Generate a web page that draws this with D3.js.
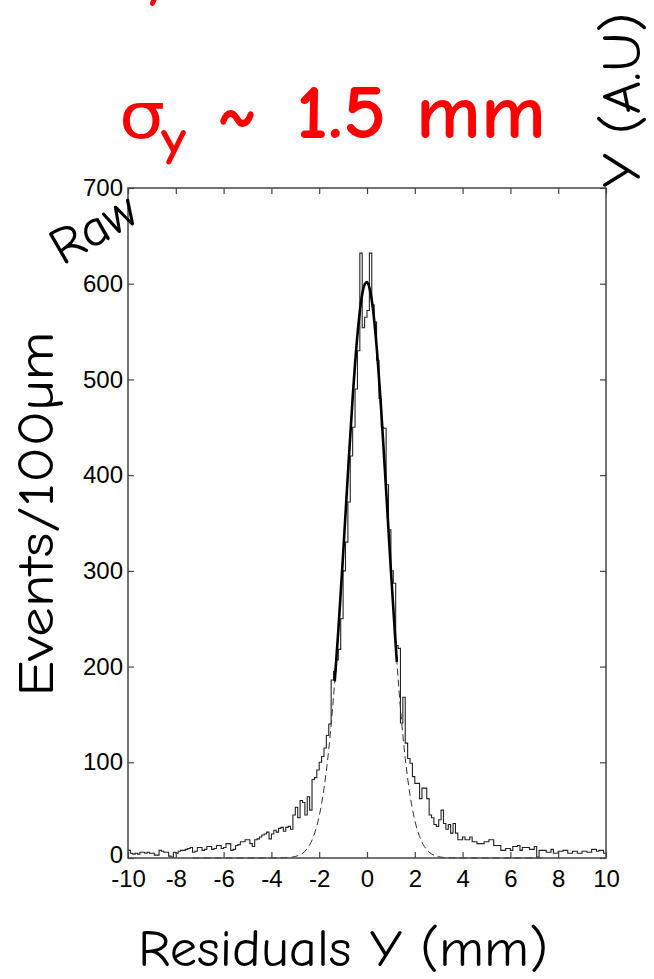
<!DOCTYPE html>
<html>
<head>
<meta charset="utf-8">
<script src="https://cdn.jsdelivr.net/npm/d3@7"></script>
<style>
  html, body { margin: 0; padding: 0; background: #fff; }
  svg { display: block; }
</style>
</head>
<body>
<svg id="chart" width="654" height="979"></svg>
<script>
// ---------------- data ----------------
const binStart = -10;
const binWidth = 0.1;
// events per 100 µm bin, from -10 mm to +10 mm (200 bins)
const counts = [
  8, 5, 4, 5, 4, 6, 6, 5, 6, 5,
  5, 3, 3, 8, 7, 6, 6, 2, 1, 6,
  5, 7, 8, 8, 9, 10, 11, 6, 7, 11,
  11, 8, 9, 12, 12, 9, 10, 13, 13, 10,
  11, 15, 15, 8, 9, 13, 14, 17, 17, 19,
  19, 15, 12, 19, 20, 22, 24, 25, 27, 20,
  25, 29, 27, 31, 32, 28, 32, 33, 30, 45,
  53, 42, 60, 58, 45, 64, 50, 82, 84, 92,
  100, 106, 115, 128, 140, 186, 195, 207, 218, 250,
  300, 330, 372, 420, 450, 490, 530, 632, 554, 565,
  572, 632, 578, 560, 520, 480, 450, 449, 390, 343,
  300, 287, 222, 219, 141, 168, 120, 104, 99, 85,
  78, 78, 62, 73, 73, 62, 45, 42, 35, 33,
  40, 50, 36, 30, 35, 26, 36, 26, 19, 19,
  22, 19, 19, 22, 17, 17, 15, 15, 15, 17,
  17, 19, 19, 13, 13, 13, 8, 8, 10, 10,
  8, 12, 12, 13, 8, 11, 11, 11, 9, 9,
  12, 1, 8, 8, 8, 6, 6, 9, 5, 5,
  7, 7, 8, 8, 5, 5, 7, 7, 5, 5,
  7, 7, 6, 6, 9, 9, 7, 8, 8, 5
];
// fitted curve, points (x in mm, events)
const fitX = [-7.3, -4.0, -3.2, -3.0, -2.8, -2.6, -2.4, -2.2, -2.0, -1.8, -1.6, -1.4, -1.35, -1.2, -1.0, -0.8, -0.6, -0.4, -0.2, -0.1, 0.0, 0.1, 0.2, 0.4, 0.6, 0.8, 1.0, 1.2, 1.25, 1.4, 1.6, 1.8, 2.0, 2.2, 2.4, 2.6, 2.8, 3.0, 3.2, 4.0, 7.3];
const fitY = [0, 0, 0.7, 1.6, 3.4, 7.0, 13.7, 25.1, 43.8, 72.5, 113.5, 168.7, 184.6, 237.5, 316.9, 400.9, 480.8, 546.6, 589.1, 599.2, 601.8, 596.0, 582.9, 535.1, 465.7, 384.1, 300.4, 222.7, 204.9, 156.4, 104.2, 65.8, 39.4, 22.4, 12.0, 6.1, 3.0, 1.4, 0.6, 0, 0];
const fitRange = [-1.35, 1.25];

const xTicks = [-10, -8, -6, -4, -2, 0, 2, 4, 6, 8, 10];
const yTicks = [0, 100, 200, 300, 400, 500, 600, 700];

const xLabel = "Residuals Y (mm)";
const yLabel = "Events/100\u00B5m";
const rightLabel = "Y (A.U)";
const cornerLabel = "Raw";
const titleSigma = "\u03C3";
const titleSub = "y";
const titleTilde = "~";
const titleValue = "1.5 mm";

// ---------------- drawing ----------------
const svg = d3.select("#chart");
svg.append("rect").attr("width", 654).attr("height", 979).attr("fill", "#fff");

const x = d3.scaleLinear().domain([-10, 10]).range([128, 606]);
const y = d3.scaleLinear().domain([0, 700]).range([858, 188]);

const comic = "'Comic Sans MS', 'Comic Neue', 'DejaVu Sans', sans-serif";
const axisFont = "'Liberation Sans', Arial, sans-serif";
const axisColor = "#444";
const plain = d => String(d);

// histogram (stairs)
const stairPts = counts.map((c, i) => [binStart + i * binWidth, c]);
stairPts.push([binStart + counts.length * binWidth, counts[counts.length - 1]]);
const stairLine = d3.line()
  .x(d => x(d[0])).y(d => y(d[1]))
  .curve(d3.curveStepAfter);
svg.append("path")
  .attr("d", stairLine(stairPts))
  .attr("fill", "none")
  .attr("stroke", "#222")
  .attr("stroke-width", 1.1);

// fit curve: dashed over whole range, thick in fit range
const fitPts = fitX.map((v, i) => [v, fitY[i]]);
const fitLine = d3.line()
  .x(d => x(d[0])).y(d => y(d[1]))
  .curve(d3.curveMonotoneX);
svg.append("path")
  .attr("d", fitLine(fitPts))
  .attr("fill", "none")
  .attr("stroke", "#333")
  .attr("stroke-width", 1)
  .attr("stroke-dasharray", "7,4");
svg.append("path")
  .attr("d", fitLine(fitPts.filter(d => d[0] >= fitRange[0] && d[0] <= fitRange[1])))
  .attr("fill", "none")
  .attr("stroke", "#000")
  .attr("stroke-width", 2.6);

// axes
const gB = svg.append("g").attr("transform", "translate(0,858)")
  .call(d3.axisBottom(x).tickValues(xTicks).tickSizeInner(-6).tickSizeOuter(0).tickPadding(12)
    .tickFormat(plain));
const gL = svg.append("g").attr("transform", "translate(128,0)")
  .call(d3.axisLeft(y).tickValues(yTicks).tickSizeInner(-6).tickSizeOuter(0).tickPadding(5)
    .tickFormat(plain));
const gT = svg.append("g").attr("transform", "translate(0,188)")
  .call(d3.axisTop(x).tickValues(xTicks).tickSizeInner(-6).tickSizeOuter(0).tickFormat(""));
const gR = svg.append("g").attr("transform", "translate(606,0)")
  .call(d3.axisRight(y).tickValues(yTicks).tickSizeInner(-6).tickSizeOuter(0).tickFormat(""));
[gB, gL, gT, gR].forEach(g => {
  g.select(".domain").remove();
  g.selectAll(".tick line").attr("stroke", axisColor).attr("stroke-width", 1.2);
  g.selectAll(".tick text").attr("fill", "#000").style("font-family", axisFont).style("font-size", "24px");
});
// lift the "0" of the y axis slightly so it clears the x labels
gL.selectAll(".tick text").filter(d => d === 0).attr("dy", "0.2em");
svg.append("rect")
  .attr("x", x(-10)).attr("y", y(700))
  .attr("width", x(10) - x(-10)).attr("height", y(0) - y(700))
  .attr("fill", "none").attr("stroke", axisColor).attr("stroke-width", 1.5);

// axis titles
svg.append("text")
  .attr("x", 343).attr("y", 966)
  .attr("text-anchor", "middle")
  .attr("textLength", 410).attr("lengthAdjust", "spacingAndGlyphs")
  .style("font-family", comic).style("font-size", "52px").attr("fill", "#000")
  .text(xLabel);

svg.append("text")
  .attr("transform", "translate(53,514) rotate(-90)")
  .attr("text-anchor", "middle")
  .attr("textLength", 365).attr("lengthAdjust", "spacingAndGlyphs")
  .style("font-family", comic).style("font-size", "50px").attr("fill", "#000")
  .text(yLabel);

svg.append("text")
  .attr("transform", "translate(640,100) rotate(-90)")
  .attr("text-anchor", "middle")
  .attr("textLength", 175).attr("lengthAdjust", "spacingAndGlyphs")
  .style("font-family", comic).style("font-size", "54px").attr("fill", "#000")
  .text(rightLabel);

svg.append("text")
  .attr("transform", "translate(62,266) rotate(-30)")
  .attr("textLength", 92).attr("lengthAdjust", "spacingAndGlyphs")
  .style("font-family", comic).style("font-size", "52px").attr("fill", "#000")
  .text(cornerLabel);

// red title
const red = "#ff0000";
svg.append("text")
  .attr("x", 145).attr("y", -4)
  .style("font-family", comic).style("font-size", "52px").style("font-weight", "bold")
  .attr("fill", red).text(titleSub);
svg.append("text")
  .attr("x", 119).attr("y", 138)
  .attr("textLength", 46).attr("lengthAdjust", "spacingAndGlyphs")
  .style("font-family", comic).style("font-size", "64px")
  .attr("fill", red).text(titleSigma);
svg.append("text")
  .attr("x", 161).attr("y", 155)
  .attr("textLength", 25).attr("lengthAdjust", "spacingAndGlyphs")
  .style("font-family", comic).style("font-size", "50px").style("font-weight", "bold")
  .attr("fill", red).text(titleSub);
svg.append("text")
  .attr("x", 217).attr("y", 137)
  .attr("textLength", 40).attr("lengthAdjust", "spacingAndGlyphs")
  .style("font-family", comic).style("font-size", "74px").style("font-weight", "bold")
  .attr("fill", red).text(titleTilde);
svg.append("text")
  .attr("x", 296).attr("y", 138)
  .attr("textLength", 250).attr("lengthAdjust", "spacingAndGlyphs")
  .style("font-family", comic).style("font-size", "76px").style("font-weight", "bold")
  .attr("fill", red).text(titleValue);
</script>
</body>
</html>
